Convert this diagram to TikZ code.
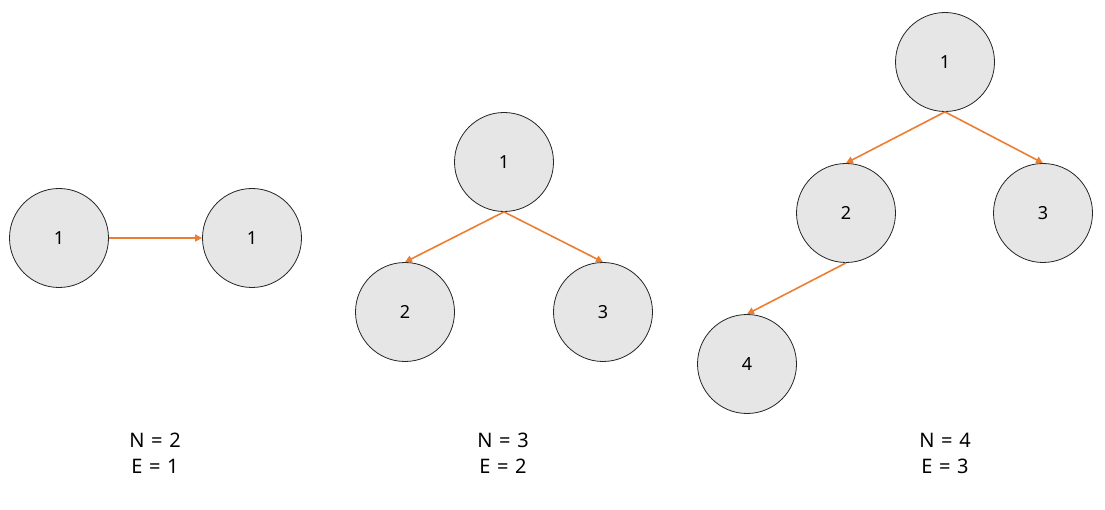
\documentclass[tikz,border=0pt]{standalone}
\usepackage{fontspec}
\setmainfont{Noto Sans}
\usetikzlibrary{arrows.meta}
\definecolor{edgeor}{HTML}{ED7D31}
\definecolor{nodefill}{HTML}{E6E6E6}
\begin{document}
\begin{tikzpicture}[x=1pt,y=-1pt,
  vtx/.style={circle,draw=black!85,line width=0.8pt,fill=nodefill,minimum size=99pt,inner sep=0pt,font=\fontsize{18}{20}\selectfont},
  edg/.style={draw=edgeor,line width=1.6pt,-{Triangle[length=7pt,width=7pt]}},
  lbl/.style={align=center,font=\fontsize{20}{26}\selectfont}]
\useasboundingbox (0,0) rectangle (1105,510);
% graph 1
\node[vtx] (a1) at (59,238) {1};
\node[vtx] (a2) at (252,238) {1};
\draw[edg] (a1.east) -- (a2.west);
% graph 2
\node[vtx] (b1) at (504,162) {1};
\node[vtx] (b2) at (405,312) {2};
\node[vtx] (b3) at (603,312) {3};
\draw[edg] (b1.south) -- (b2.north);
\draw[edg] (b1.south) -- (b3.north);
% graph 3
\node[vtx] (c1) at (945,62) {1};
\node[vtx] (c2) at (846,213) {2};
\node[vtx] (c3) at (1043,213) {3};
\node[vtx] (c4) at (747,364) {4};
\draw[edg] (c1.south) -- (c2.north);
\draw[edg] (c1.south) -- (c3.north);
\draw[edg] (c2.south) -- (c4.north);
% labels
\node[lbl] (l1) at (155,453) {N\,\,=\,\,2\\E\,\,=\,\,1};
\node[lbl] (l2) at (503,453) {N\,\,=\,\,3\\E\,\,=\,\,2};
\node[lbl] (l3) at (945,453) {N\,\,=\,\,4\\E\,\,=\,\,3};
\end{tikzpicture}
\end{document}
